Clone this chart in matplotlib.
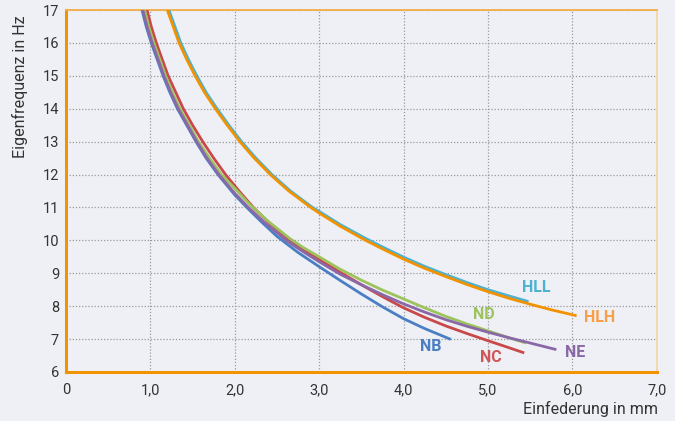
import matplotlib.pyplot as plt

# Eigenfrequenz-Kurven, Werte
hlh_x = [1.20, 1.27, 1.34, 1.43, 1.53, 1.64, 1.77, 1.91, 2.06, 2.23, 2.42, 2.64, 2.9, 3.0, 3.25,
         3.55, 3.75, 4.0, 4.25, 4.5, 4.75, 5.0, 5.25, 5.5, 5.75, 6.05]
hlh_y = [17.0, 16.5, 16.0, 15.5, 15.0, 14.5, 14.0, 13.5, 13.0, 12.5, 12.0, 11.5, 11.0, 10.83, 10.43,
         10.0, 9.74, 9.43, 9.15, 8.9, 8.66, 8.44, 8.24, 8.06, 7.89, 7.71]

hll_x = [1.22, 1.29, 1.36, 1.45, 1.55, 1.66, 1.79, 1.93, 2.08, 2.25, 2.44, 2.66, 2.92, 3.0, 3.25,
         3.55, 3.75, 4.0, 4.25, 4.5, 4.75, 5.0, 5.25, 5.48]
hll_y = [17.0, 16.5, 16.0, 15.5, 15.0, 14.5, 14.0, 13.5, 13.0, 12.5, 12.0, 11.5, 11.0, 10.88, 10.48,
         10.06, 9.8, 9.49, 9.21, 8.96, 8.72, 8.5, 8.31, 8.14]

nb_x = [0.90, 0.95, 1.01, 1.08, 1.15, 1.23, 1.32, 1.43, 1.54, 1.66, 1.80, 2.0, 2.15, 2.3, 2.5,
        2.75, 3.0, 3.25, 3.5, 3.75, 4.0, 4.25, 4.56]
nb_y = [17.0, 16.5, 16.0, 15.5, 15.0, 14.5, 14.0, 13.5, 13.0, 12.5, 12.0, 11.38, 10.98, 10.6, 10.12,
        9.63, 9.2, 8.78, 8.37, 7.98, 7.62, 7.32, 6.99]

nc_x = [0.96, 1.01, 1.07, 1.14, 1.21, 1.30, 1.39, 1.50, 1.62, 1.75, 1.89, 2.05, 2.22, 2.42, 2.63,
        2.83, 3.0, 3.25, 3.5, 3.75, 4.0, 4.25, 4.5, 4.75, 5.0, 5.2, 5.43]
nc_y = [17.0, 16.5, 16.0, 15.5, 15.0, 14.5, 14.0, 13.5, 13.0, 12.5, 12.0, 11.5, 11.0, 10.5, 10.05,
        9.7, 9.42, 9.03, 8.65, 8.29, 7.95, 7.66, 7.4, 7.17, 6.95, 6.78, 6.58]

nd_x = [0.93, 0.98, 1.04, 1.11, 1.18, 1.26, 1.35, 1.46, 1.57, 1.70, 1.84, 2.0, 2.18, 2.4, 2.65,
        2.8, 3.0, 3.25, 3.5, 3.75, 4.0, 4.25, 4.5, 4.75, 5.0, 5.2, 5.45]
nd_y = [17.0, 16.5, 16.0, 15.5, 15.0, 14.5, 14.0, 13.5, 13.0, 12.5, 12.0, 11.58, 11.08, 10.57, 10.06,
        9.8, 9.5, 9.12, 8.79, 8.49, 8.22, 7.95, 7.69, 7.46, 7.25, 7.08, 6.88]

ne_x = [0.91, 0.96, 1.02, 1.09, 1.16, 1.24, 1.33, 1.44, 1.55, 1.67, 1.81, 2.0, 2.16, 2.35, 2.61,
        2.8, 3.0, 3.25, 3.5, 3.75, 4.0, 4.25, 4.5, 4.75, 5.0, 5.25, 5.5, 5.81]
ne_y = [17.0, 16.5, 16.0, 15.5, 15.0, 14.5, 14.0, 13.5, 13.0, 12.5, 12.0, 11.43, 11.0, 10.55, 10.0,
        9.67, 9.35, 8.97, 8.65, 8.35, 8.07, 7.82, 7.59, 7.39, 7.21, 7.04, 6.88, 6.68]

x_ticks = [0, 1, 2, 3, 4, 5, 6, 7]
x_ticklabels = ['0', '1,0', '2,0', '3,0', '4,0', '5,0', '6,0', '7,0']
y_ticks = list(range(6, 18))

series = [
    ('NB', nb_x, nb_y, '#4a7fc4', (4.32, 6.76)),
    ('NC', nc_x, nc_y, '#c9484a', (5.03, 6.45)),
    ('ND', nd_x, nd_y, '#9dc35c', (4.95, 7.76)),
    ('NE', ne_x, ne_y, '#8a68a8', (6.03, 6.58)),
    ('HLL', hll_x, hll_y, '#4bb2d2', (5.57, 8.58)),
    ('HLH', hlh_x, hlh_y, '#f29200', (6.32, 7.67)),
]
label_colors = {'HLH': '#f7a048', 'NC': '#cf5656'}

plt.rcParams['font.family'] = ['Roboto', 'DejaVu Sans']
bg = '#eff0f5'

fig = plt.figure(figsize=(6.75, 4.21), dpi=100, facecolor=bg)
ax = fig.add_axes([0.0978, 0.1164, 0.8752, 0.8598], facecolor=bg)

for name, xs, ys, col, pos in series:
    ax.plot(xs, ys, color=col, lw=2.0, solid_capstyle='butt', solid_joinstyle='round', zorder=3)
    ax.text(pos[0], pos[1], name, color=label_colors.get(name, col), fontsize=11.5,
            fontweight='bold', ha='center', va='center', zorder=4)

ax.set_xlim(0, 7)
ax.set_ylim(6, 17)
ax.set_xticks(x_ticks)
ax.set_xticklabels(x_ticklabels)
ax.set_yticks(y_ticks)
ax.tick_params(length=0, labelsize=10.5, colors='#333333')
ax.tick_params(axis='x', pad=8)
ax.tick_params(axis='y', pad=5)

ax.grid(True, color='#9a9a9a', lw=0.9, linestyle=(0, (1, 1.5)), zorder=1)

for side in ['left', 'bottom']:
    ax.spines[side].set_color('#f29400')
    ax.spines[side].set_linewidth(2.2)
ax.spines['top'].set_color('#f5ad45')
ax.spines['top'].set_linewidth(1.3)
ax.spines['right'].set_color('#f6d6a6')
ax.spines['right'].set_linewidth(1.3)

fig.text(0.975, 0.01, 'Einfederung in mm', ha='right', va='bottom', fontsize=11.5, color='#333333')
fig.text(0.03, 0.795, 'Eigenfrequenz in Hz', rotation=90, ha='center', va='center',
         fontsize=11.5, color='#333333')

fig.savefig('out.png', dpi=100, facecolor=bg)
